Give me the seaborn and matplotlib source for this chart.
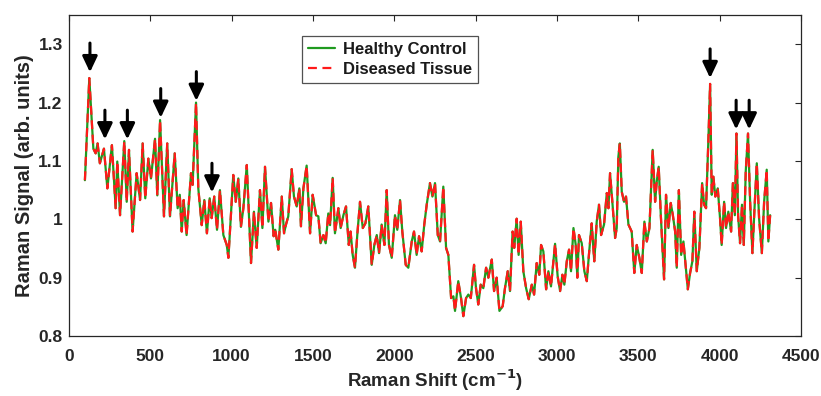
import matplotlib
matplotlib.use("Agg")
import matplotlib.pyplot as plt
import seaborn as sns
import pandas as pd

raman_shift = [
    98, 125, 150, 164, 176, 190, 215, 236, 264, 287, 297, 314, 340, 355, 369, 391, 416, 437, 453, 469,
    488, 504, 529, 543, 560, 584, 604, 621, 650, 668, 681, 693, 705, 723, 750, 760, 781, 795, 816, 832,
    848, 865, 877, 893, 910, 928, 949, 970, 980, 1010, 1025, 1041, 1057, 1072, 1093, 1119, 1137, 1154, 1174, 1189,
    1205, 1226, 1242, 1258, 1268, 1287, 1308, 1322, 1334, 1348, 1369, 1383, 1400, 1416, 1426, 1441, 1461, 1482, 1498, 1519,
    1533, 1547, 1564, 1578, 1594, 1605, 1621, 1635, 1656, 1670, 1687, 1703, 1720, 1731, 1744, 1758, 1773, 1789, 1806, 1822,
    1840, 1861, 1877, 1892, 1906, 1922, 1939, 1953, 1967, 1984, 2004, 2018, 2035, 2049, 2070, 2086, 2107, 2121, 2137, 2152,
    2168, 2184, 2199, 2219, 2234, 2250, 2267, 2281, 2301, 2318, 2332, 2349, 2363, 2373, 2393, 2410, 2424, 2441, 2455, 2470,
    2490, 2502, 2516, 2531, 2547, 2564, 2578, 2599, 2613, 2629, 2646, 2666, 2680, 2697, 2711, 2727, 2737, 2752, 2764, 2777,
    2793, 2810, 2826, 2845, 2859, 2875, 2891, 2902, 2916, 2933, 2947, 2963, 2988, 3004, 3019, 3033, 3045, 3060, 3074, 3086,
    3101, 3115, 3125, 3135, 3152, 3168, 3183, 3197, 3213, 3229, 3244, 3258, 3271, 3289, 3306, 3316, 3326, 3340, 3357, 3367,
    3377, 3386, 3398, 3412, 3424, 3439, 3459, 3475, 3490, 3506, 3521, 3537, 3552, 3568, 3588, 3603, 3613, 3625, 3638, 3658,
    3670, 3685, 3699, 3712, 3726, 3736, 3749, 3763, 3777, 3792, 3804, 3818, 3832, 3844, 3859, 3875, 3892, 3904, 3916, 3930,
    3941, 3951, 3961, 3973, 3988, 4002, 4012, 4027, 4039, 4053, 4070, 4081, 4093, 4103, 4113, 4125, 4137, 4148, 4160, 4174,
    4187, 4201, 4214, 4228, 4242, 4259, 4273, 4289, 4299, 4310,
]

healthy_signal = [
    1.067, 1.242, 1.121, 1.113, 1.130, 1.096, 1.121, 1.053, 1.127, 1.019, 1.099, 1.007, 1.134, 1.030, 1.119, 0.979, 1.079, 1.033, 1.130, 1.036,
    1.104, 1.070, 1.138, 1.041, 1.170, 1.005, 1.130, 1.005, 1.113, 1.019, 1.042, 0.979, 1.033, 0.973, 1.079, 1.059, 1.200, 1.053, 0.990, 1.033,
    0.976, 1.036, 1.002, 1.039, 0.982, 1.050, 0.973, 0.956, 0.934, 1.076, 1.030, 1.070, 0.987, 1.019, 1.093, 0.925, 1.013, 0.951, 1.050, 0.985,
    1.090, 0.996, 1.028, 0.971, 0.982, 0.948, 1.039, 0.976, 0.991, 1.005, 1.086, 1.039, 1.022, 1.053, 0.988, 1.053, 1.092, 0.976, 1.042, 1.007,
    1.005, 0.959, 0.973, 0.959, 1.010, 0.990, 1.071, 0.976, 1.019, 0.985, 1.007, 1.022, 0.956, 0.979, 0.939, 0.917, 0.976, 1.030, 0.985, 0.993,
    1.022, 0.922, 0.956, 0.973, 0.942, 0.991, 0.956, 1.050, 0.956, 0.934, 1.007, 0.982, 1.033, 0.979, 0.922, 0.917, 0.962, 0.979, 0.939, 0.971,
    0.945, 0.991, 1.025, 1.062, 1.039, 1.062, 0.973, 0.962, 1.056, 0.951, 0.939, 0.865, 0.868, 0.843, 0.894, 0.865, 0.834, 0.865, 0.871, 0.865,
    0.922, 0.882, 0.854, 0.888, 0.882, 0.917, 0.900, 0.931, 0.877, 0.900, 0.843, 0.851, 0.882, 0.911, 0.877, 0.979, 0.951, 1.001, 0.939, 0.996,
    0.911, 0.882, 0.863, 0.888, 0.871, 0.925, 0.905, 0.956, 0.945, 0.880, 0.911, 0.885, 0.958, 0.902, 0.877, 0.905, 0.888, 0.928, 0.948, 0.911,
    0.985, 0.956, 0.900, 0.973, 0.959, 0.911, 0.894, 0.942, 0.993, 0.928, 0.996, 1.025, 0.973, 0.991, 1.045, 1.019, 1.079, 1.030, 0.968, 0.985,
    1.107, 1.130, 1.047, 1.030, 1.039, 0.991, 0.979, 0.908, 0.956, 0.934, 0.908, 0.996, 0.962, 0.985, 1.119, 1.030, 1.065, 1.090, 1.007, 0.897,
    1.042, 0.985, 1.028, 1.007, 0.979, 0.917, 1.050, 0.939, 0.962, 0.917, 0.880, 0.908, 0.928, 1.013, 0.911, 0.951, 1.062, 1.025, 1.019, 1.133,
    1.232, 1.042, 1.073, 1.039, 1.053, 1.002, 0.956, 1.030, 0.985, 1.013, 0.979, 1.062, 1.007, 1.147, 1.007, 0.959, 1.025, 0.956, 1.082, 1.147,
    1.030, 0.942, 1.019, 1.096, 1.002, 0.942, 1.030, 1.085, 0.962, 1.007,
]

# Diseased tissue spectrum overlays the healthy one in the figure
diseased_signal = list(healthy_signal)

# Marked peaks (arrow tip positions)
arrow_shift = [129, 221, 359, 564, 783, 879, 3941, 4101, 4181]
arrow_tip = [1.252, 1.137, 1.137, 1.174, 1.203, 1.046, 1.242, 1.154, 1.154]

series_names = ["Healthy Control", "Diseased Tissue"]
x_ticks = [0, 500, 1000, 1500, 2000, 2500, 3000, 3500, 4000, 4500]
y_ticks = [0.8, 0.9, 1.0, 1.1, 1.2, 1.3]
y_tick_labels = ["0.8", "0.9", "1", "1.1", "1.2", "1.3"]

sns.set_style("white")
plt.rcParams["font.family"] = ["Liberation Sans", "DejaVu Sans"]
plt.rcParams["font.weight"] = "bold"
plt.rcParams["mathtext.default"] = "bf"

fig = plt.figure(figsize=(8.21, 3.96), dpi=100)
ax = fig.add_axes([0.084, 0.1515, 0.8917, 0.8105])

df_h = pd.DataFrame({"shift": raman_shift, "signal": healthy_signal})
df_d = pd.DataFrame({"shift": raman_shift, "signal": diseased_signal})

sns.lineplot(data=df_h, x="shift", y="signal", ax=ax, color="#1f9a1f", lw=1.6,
             label=series_names[0], estimator=None, sort=False)
sns.lineplot(data=df_d, x="shift", y="signal", ax=ax, color="#ff1a1a", lw=1.6,
             dashes=False, label=series_names[1], estimator=None, sort=False)
ax.lines[1].set_linestyle((0, (4, 2.5)))

for xs, yt in zip(arrow_shift, arrow_tip):
    ax.annotate("", xy=(xs, yt), xytext=(xs, yt + 0.05),
                arrowprops=dict(arrowstyle="-|>,head_width=0.45,head_length=0.95",
                                lw=2.2, color="black", mutation_scale=10,
                                shrinkA=0, shrinkB=0))

ax.set_xlim(0, 4500)
ax.set_ylim(0.8, 1.35)
ax.set_xticks(x_ticks)
ax.set_yticks(y_ticks)
ax.set_yticklabels(y_tick_labels)
ax.tick_params(direction="in", length=4, width=0.8, top=True, right=True,
               labelsize=12.5, colors="#262626")
ax.tick_params(axis="x", pad=9)
ax.tick_params(axis="y", pad=4.5)
for lab in ax.get_xticklabels() + ax.get_yticklabels():
    lab.set_fontweight("bold")
for sp in ax.spines.values():
    sp.set_color("#262626")
    sp.set_linewidth(0.9)

ax.set_xlabel("Raman Shift (cm$^{-1}$)", fontsize=13.5, fontweight="bold", color="#262626", labelpad=3)
ax.set_ylabel("Raman Signal (arb. units)", fontsize=14.5, fontweight="bold", color="#262626", labelpad=3)

leg = ax.legend(loc="upper left", bbox_to_anchor=(0.318, 0.935), frameon=True, fancybox=False,
                edgecolor="#262626", fontsize=12, handlelength=1.65, borderpad=0.35,
                labelspacing=0.3, handletextpad=0.5, borderaxespad=0)
leg.get_frame().set_linewidth(0.9)
for t in leg.get_texts():
    t.set_fontweight("bold")
    t.set_color("#1a1a1a")

fig.savefig("out.png", dpi=100)
